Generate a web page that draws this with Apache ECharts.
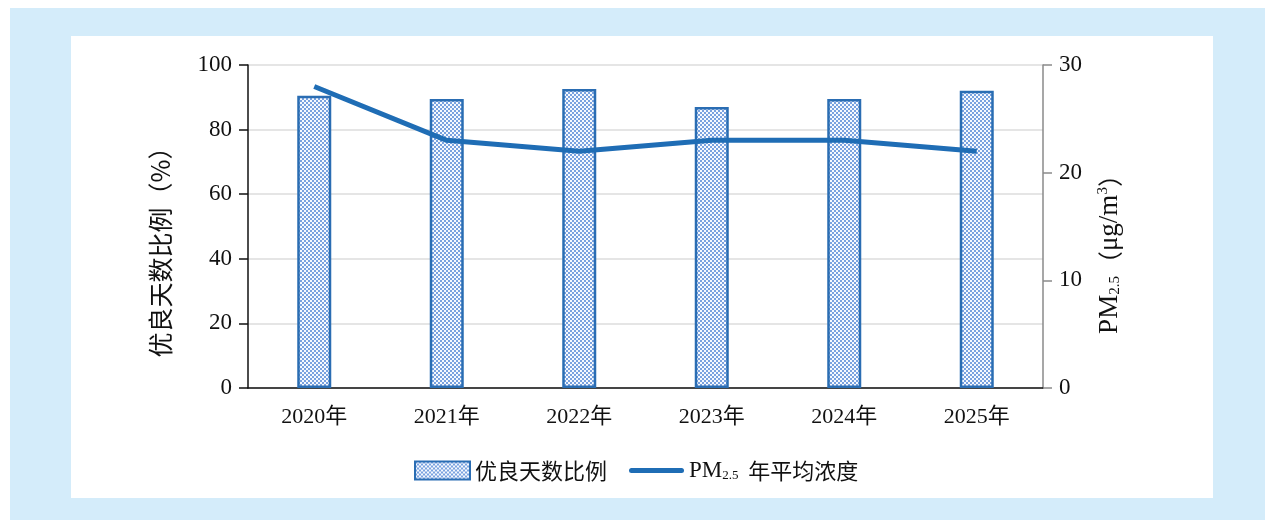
<!DOCTYPE html>
<html>
<head>
<meta charset="utf-8">
<script src="https://cdn.jsdelivr.net/npm/echarts@6/dist/echarts.min.js"></script>
<style>
  body { margin: 0; background: #fff; }
  #outer { position: absolute; left: 10px; top: 8px; width: 1255px; height: 512px; background: #d4ecfa; }
  #inner { position: absolute; left: 71px; top: 36px; width: 1142px; height: 462px; background: #fff; }
  #chart { position: absolute; left: 0; top: 0; width: 1265px; height: 520px; }
</style>
</head>
<body>
<div id="outer"></div>
<div id="inner"></div>
<div id="chart"></div>
<script>
// data
const years = ['2020年', '2021年', '2022年', '2023年', '2024年', '2025年'];
const goodDays = [90.5, 89.5, 92.6, 87, 89.5, 92];   // 优良天数比例 (%)
const pm25 = [28, 23, 22, 23, 23, 22];                // PM2.5 (μg/m3)

const serif = '"Liberation Serif", "Noto Sans CJK SC", serif';
const cjk = '"Noto Sans CJK SC", "Liberation Serif", sans-serif';
const ink = '#111';

// dotted fill for the bars
function makePattern() {
  let c = document.createElement('canvas');
  c.width = 4; c.height = 4;
  let ctx = c.getContext('2d');
  ctx.fillStyle = '#f6f9fe';
  ctx.fillRect(0, 0, 4, 4);
  ctx.fillStyle = '#7aa2df';
  ctx.fillRect(0, 0, 2, 2);
  ctx.fillRect(2, 2, 2, 2);
  return c;
}

let fill = { image: makePattern(), repeat: 'repeat' };

let myChart = echarts.init(document.getElementById('chart'));

myChart.setOption({
  backgroundColor: 'transparent',
  animation: false,
  grid: { left: 248, right: 222, top: 65, bottom: 132 },
  legend: {
    left: 409,
    top: 454,
    itemWidth: 55,
    itemHeight: 18,
    itemGap: 22,
    textStyle: {
      fontFamily: cjk,
      fontSize: 22,
      color: ink,
      rich: {
        pm: { fontFamily: serif, fontSize: 23, color: ink },
        sub: { fontFamily: serif, fontSize: 13, color: ink, verticalAlign: 'bottom', padding: [8, 0, 0, 0] },
        t: { fontFamily: cjk, fontSize: 22, color: ink }
      }
    },
    formatter: name => {
      if (name === 'PM2.5 年平均浓度') return '{pm|PM}{sub|2.5}{t|  年平均浓度}';
      return name;
    },
    data: [
      { name: '优良天数比例', icon: 'rect', itemStyle: { color: fill, borderColor: '#2a6db3', borderWidth: 2 } },
      { name: 'PM2.5 年平均浓度', icon: 'path://M2.5,0 L52.5,0 A2.5,2.5 0 0 1 52.5,5 L2.5,5 A2.5,2.5 0 0 1 2.5,0 Z', itemStyle: { color: '#1f6db5', borderWidth: 0 } }
    ]
  },
  xAxis: {
    type: 'category',
    data: years,
    axisLine: { lineStyle: { color: '#111', width: 1.5 } },
    axisTick: { inside: true, length: 10, lineStyle: { color: '#111', width: 1.5 } },
    axisLabel: { fontFamily: serif, fontSize: 22, color: ink, margin: 18 }
  },
  yAxis: [
    {
      type: 'value',
      min: 0, max: 100, interval: 20,
      axisLine: { show: true, lineStyle: { color: '#111', width: 1.5 } },
      axisTick: { show: true, length: 9, lineStyle: { color: '#111', width: 1.5 } },
      axisLabel: { fontFamily: serif, fontSize: 23, color: ink, margin: 16 },
      splitLine: { lineStyle: { color: '#dcdcdc', width: 1.5 } }
    },
    {
      type: 'value',
      min: 0, max: 30, interval: 10,
      axisLine: { show: true, lineStyle: { color: '#8a8a8a', width: 1.5 } },
      axisTick: { show: true, length: 9, lineStyle: { color: '#8a8a8a', width: 1.5 } },
      axisLabel: { fontFamily: serif, fontSize: 23, color: ink, margin: 16 },
      splitLine: { show: false }
    }
  ],
  graphic: [
    {
      type: 'text',
      x: 160, y: 246,
      rotation: Math.PI / 2,
      style: {
        text: '优良天数比例（%）',
        font: '25px ' + cjk,
        fill: ink,
        align: 'center',
        verticalAlign: 'middle'
      }
    },
    {
      type: 'text',
      x: 1110, y: 248,
      rotation: Math.PI / 2,
      style: {
        text: '{pm|PM}{sub|2.5}{t|（}{u|μg/m}{sup|3}{t|）}',
        align: 'center',
        verticalAlign: 'middle',
        fill: ink,
        rich: {
          pm: { fontFamily: serif, fontSize: 27, fill: ink },
          sub: { fontFamily: serif, fontSize: 15, fill: ink, padding: [11, 0, 0, 0] },
          t: { fontFamily: cjk, fontSize: 25, fill: ink },
          u: { fontFamily: serif, fontSize: 27, fill: ink },
          sup: { fontFamily: serif, fontSize: 15, fill: ink, padding: [0, 0, 13, 0] }
        }
      }
    }
  ],
  series: [
    {
      name: '优良天数比例',
      type: 'bar',
      barWidth: 34,
      yAxisIndex: 0,
      itemStyle: {
        color: fill,
        borderColor: '#2a6db3',
        borderWidth: 2.5
      },
      data: goodDays
    },
    {
      name: 'PM2.5 年平均浓度',
      type: 'line',
      yAxisIndex: 1,
      showSymbol: false,
      symbol: 'none',
      lineStyle: { color: '#1f6db5', width: 5 },
      itemStyle: { color: '#1f6db5' },
      data: pm25
    }
  ]
});
</script>
</body>
</html>
